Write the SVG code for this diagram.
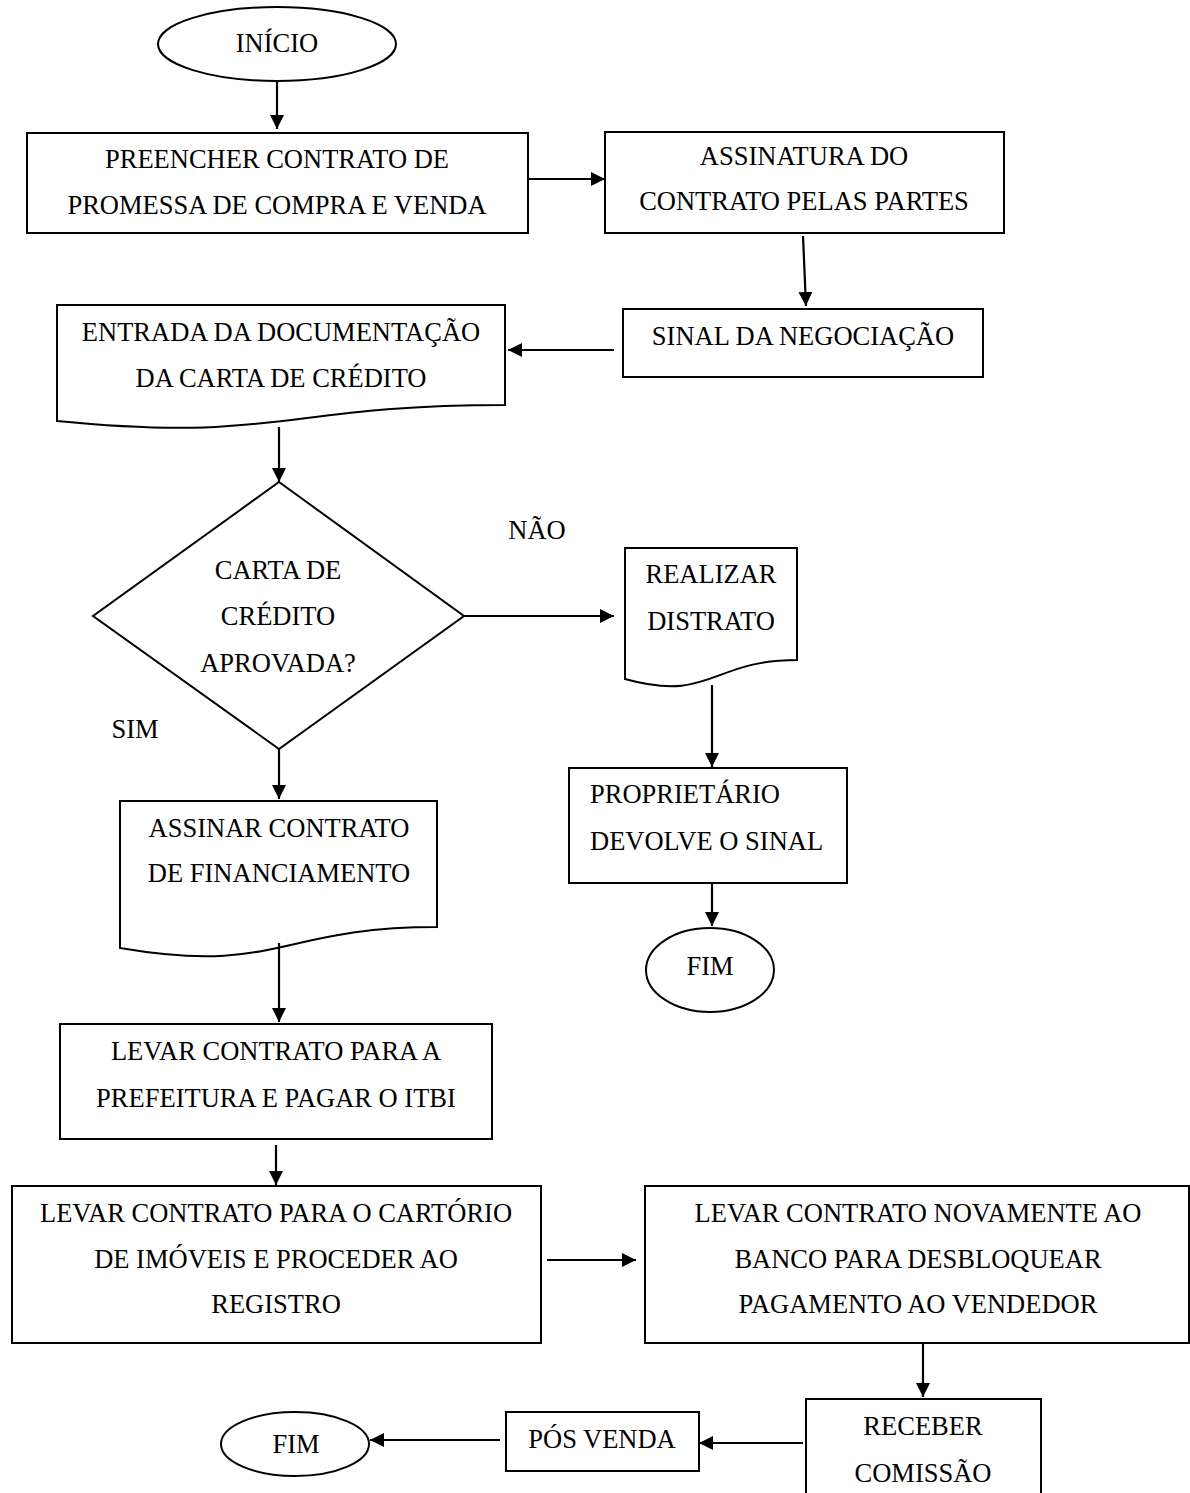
<svg xmlns="http://www.w3.org/2000/svg" width="1190" height="1493" viewBox="0 0 1190 1493">
<style>
.s{fill:#fff;stroke:#000;stroke-width:2}
.t{font-family:"Liberation Serif","Times New Roman",serif;font-size:26.5px;fill:#000;text-anchor:middle}
.l{text-anchor:start}
.c{fill:none;stroke:#000;stroke-width:2.2}
</style>
<defs>
<marker id="ah" viewBox="0 0 10 10" refX="10" refY="5" markerWidth="14" markerHeight="14" markerUnits="userSpaceOnUse" orient="auto">
<path d="M0,0 L10,5 L0,10 Z" fill="#000"/>
</marker>
</defs>
<rect width="1190" height="1493" fill="#fff"/>
<g id="inicio"><ellipse class="s" cx="277" cy="44" rx="119" ry="37"/><text class="t" x="277" y="52">INÍCIO</text></g>
<g id="preencher"><rect class="s" x="27" y="133" width="501" height="100"/><text class="t" x="277" y="168">PREENCHER CONTRATO DE</text><text class="t" x="277" y="214">PROMESSA DE COMPRA E VENDA</text></g>
<g id="assinatura"><rect class="s" x="605" y="132" width="399" height="101"/><text class="t" x="804" y="165">ASSINATURA DO</text><text class="t" x="804" y="210">CONTRATO PELAS PARTES</text></g>
<g id="sinal"><rect class="s" x="623" y="309" width="360" height="68"/><text class="t" x="803" y="345">SINAL DA NEGOCIAÇÃO</text></g>
<g id="entrada"><path class="s" d="M57,305 H505 V405 C281,405 281,443 57,421 Z"/><text class="t" x="281" y="341">ENTRADA DA DOCUMENTAÇÃO</text><text class="t" x="281" y="387">DA CARTA DE CRÉDITO</text></g>
<g id="decisao"><path class="s" d="M279,482 L464,616 L279,749 L93,616 Z"/><text class="t" x="278" y="579">CARTA DE</text><text class="t" x="278" y="625">CRÉDITO</text><text class="t" x="278" y="672">APROVADA?</text></g>
<g id="nao"><text class="t" x="537" y="539">NÃO</text></g>
<g id="sim"><text class="t" x="135" y="738">SIM</text></g>
<g id="realizar"><path class="s" d="M625,548 H797 V660 C711,660 711,703 625,679 Z"/><text class="t" x="711" y="583">REALIZAR</text><text class="t" x="711" y="630">DISTRATO</text></g>
<g id="proprietario"><rect class="s" x="569" y="768" width="278" height="115"/><text class="t l" x="590" y="803">PROPRIETÁRIO</text><text class="t l" x="590" y="850">DEVOLVE O SINAL</text></g>
<g id="fim1"><ellipse class="s" cx="710" cy="970" rx="64" ry="42"/><text class="t" x="710" y="975">FIM</text></g>
<g id="assinar"><path class="s" d="M120,801 H437 V927 C278.5,927 278.5,975 120,948 Z"/><text class="t" x="279" y="837">ASSINAR CONTRATO</text><text class="t" x="279" y="882">DE FINANCIAMENTO</text></g>
<g id="prefeitura"><rect class="s" x="60" y="1024" width="432" height="115"/><text class="t" x="276" y="1060">LEVAR CONTRATO PARA A</text><text class="t" x="276" y="1107">PREFEITURA E PAGAR O ITBI</text></g>
<g id="cartorio"><rect class="s" x="12" y="1186" width="529" height="157"/><text class="t" x="276" y="1222">LEVAR CONTRATO PARA O CARTÓRIO</text><text class="t" x="276" y="1268">DE IMÓVEIS E PROCEDER AO</text><text class="t" x="276" y="1313">REGISTRO</text></g>
<g id="banco"><rect class="s" x="645" y="1186" width="544" height="157"/><text class="t" x="918" y="1222">LEVAR CONTRATO NOVAMENTE AO</text><text class="t" x="918" y="1268">BANCO PARA DESBLOQUEAR</text><text class="t" x="918" y="1313">PAGAMENTO AO VENDEDOR</text></g>
<g id="receber"><rect class="s" x="806" y="1399" width="235" height="110"/><text class="t" x="923" y="1435">RECEBER</text><text class="t" x="923" y="1482">COMISSÃO</text></g>
<g id="posvenda"><rect class="s" x="506" y="1412" width="193" height="59"/><text class="t" x="602" y="1448">PÓS VENDA</text></g>
<g id="fim2"><ellipse class="s" cx="295" cy="1444" rx="74" ry="32"/><text class="t" x="296" y="1453">FIM</text></g>
<g id="connectors">
<line class="c" x1="277" y1="81" x2="277" y2="129" marker-end="url(#ah)"/>
<line class="c" x1="528" y1="179" x2="605" y2="179" marker-end="url(#ah)"/>
<line class="c" x1="803" y1="236" x2="806" y2="306" marker-end="url(#ah)"/>
<line class="c" x1="614" y1="350" x2="508" y2="350" marker-end="url(#ah)"/>
<line class="c" x1="279" y1="427" x2="279" y2="482" marker-end="url(#ah)"/>
<line class="c" x1="464" y1="616" x2="614" y2="616" marker-end="url(#ah)"/>
<line class="c" x1="279" y1="749" x2="279" y2="799" marker-end="url(#ah)"/>
<line class="c" x1="712" y1="685" x2="712" y2="767" marker-end="url(#ah)"/>
<line class="c" x1="712" y1="883" x2="712" y2="926" marker-end="url(#ah)"/>
<line class="c" x1="279" y1="943" x2="279" y2="1022" marker-end="url(#ah)"/>
<line class="c" x1="276" y1="1145" x2="276" y2="1185" marker-end="url(#ah)"/>
<line class="c" x1="547" y1="1260" x2="636" y2="1260" marker-end="url(#ah)"/>
<line class="c" x1="923" y1="1343" x2="923" y2="1397" marker-end="url(#ah)"/>
<line class="c" x1="803" y1="1443" x2="699" y2="1443" marker-end="url(#ah)"/>
<line class="c" x1="500" y1="1440" x2="370" y2="1440" marker-end="url(#ah)"/>
</g>
</svg>
